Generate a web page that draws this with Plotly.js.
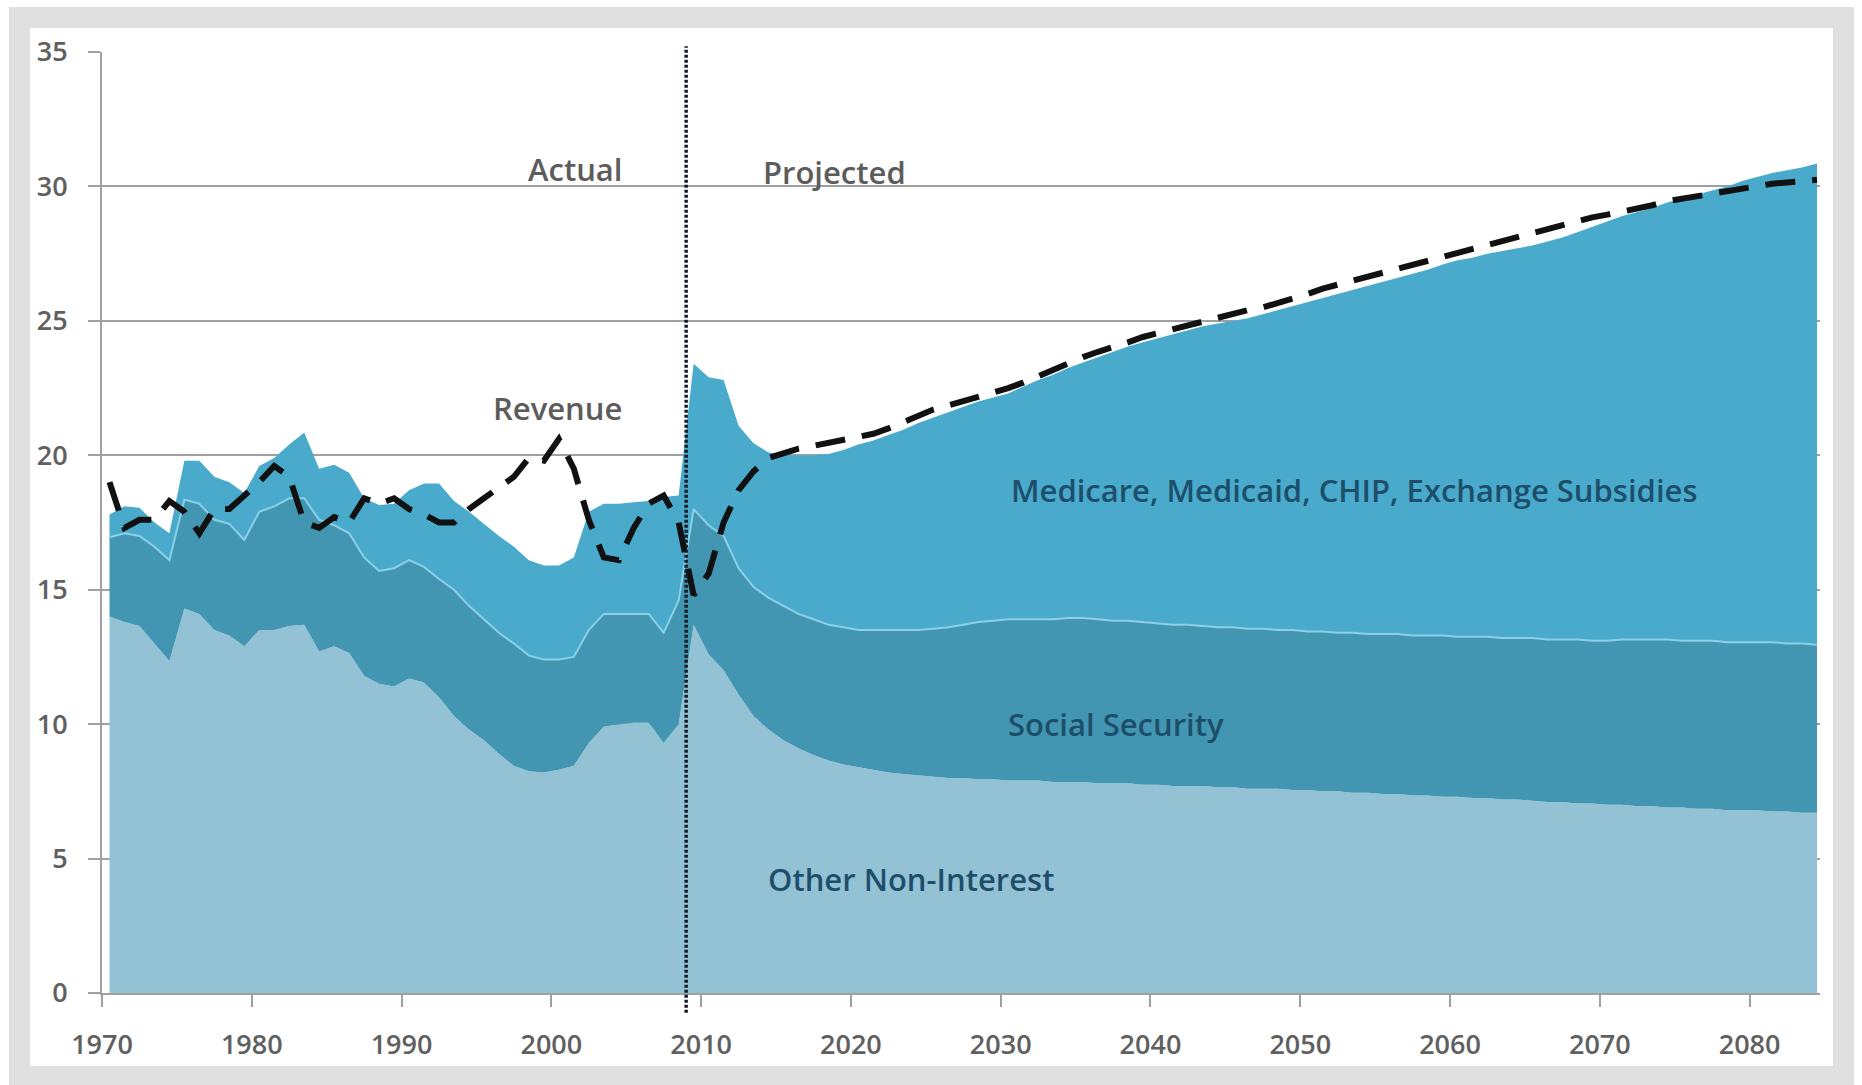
<!DOCTYPE html>
<html>
<head>
<meta charset="utf-8">
<script src="https://cdn.plot.ly/plotly-3.0.1.min.js"></script>
<style>
  html, body { margin: 0; padding: 0; background: #ffffff; width: 1862px; height: 1085px; overflow: hidden; }
  #frame { position: absolute; left: 9px; top: 7px; width: 1845px; height: 1080px; box-sizing: border-box;
           border: 21px solid #e0e0e0; background: #ffffff; }
  #chart { position: absolute; left: 0; top: 0; width: 1862px; height: 1085px; }
</style>
</head>
<body>
<div id="frame"></div>
<div id="chart"></div>
<script>
// Fiscal years shown (actual through 2008, projected from 2009)
const firstYear = 1970, lastYear = 2084;
const years = [];
for (let y = firstYear; y <= lastYear; y++) years.push(y);

// Cumulative (stacked) tops, % of GDP
// Top of "Other Non-Interest"
const otherTop = [
  14.0, 13.8, 13.65, 13.0, 12.35, 14.3, 14.1, 13.5, 13.3, 12.9,      // 1970-79
  13.5, 13.5, 13.65, 13.7, 12.7, 12.9, 12.65, 11.8, 11.5, 11.4,      // 1980-89
  11.7, 11.55, 11.0, 10.3, 9.8, 9.4, 8.9, 8.45, 8.25, 8.2,           // 1990-99
  8.3, 8.45, 9.3, 9.9, 10.0, 10.05, 10.05, 9.3, 10.0, 13.7,          // 2000-09
  12.6, 12.0, 11.1, 10.3, 9.8, 9.4, 9.1, 8.85, 8.65, 8.5,            // 2010-19
  8.4, 8.3, 8.2, 8.15, 8.1, 8.05, 8.0, 8.0, 7.95, 7.95,              // 2020-29
  7.9, 7.9, 7.9, 7.85, 7.85, 7.85, 7.8, 7.8, 7.8, 7.75,              // 2030-39
  7.75, 7.7, 7.7, 7.7, 7.65, 7.65, 7.6, 7.6, 7.6, 7.55,              // 2040-49
  7.55, 7.5, 7.5, 7.45, 7.45, 7.4, 7.4, 7.35, 7.35, 7.3,             // 2050-59
  7.3, 7.25, 7.25, 7.2, 7.2, 7.15, 7.1, 7.1, 7.05, 7.05,             // 2060-69
  7.0, 7.0, 6.95, 6.95, 6.9, 6.9, 6.85, 6.85, 6.8, 6.8,              // 2070-79
  6.8, 6.75, 6.75, 6.7, 6.7                                          // 2080-84
];
// Top of "Social Security" (Other + Social Security)
const socialSecurityTop = [
  16.95, 17.1, 17.0, 16.6, 16.1, 18.35, 18.2, 17.6, 17.45, 16.85,    // 1970-79
  17.9, 18.1, 18.4, 18.4, 17.6, 17.4, 17.1, 16.2, 15.7, 15.8,        // 1980-89
  16.1, 15.85, 15.4, 15.0, 14.4, 13.9, 13.4, 13.0, 12.55, 12.4,      // 1990-99
  12.4, 12.5, 13.5, 14.1, 14.1, 14.1, 14.1, 13.4, 14.6, 18.0,        // 2000-09
  17.4, 17.0, 15.8, 15.1, 14.7, 14.4, 14.1, 13.9, 13.7, 13.6,        // 2010-19
  13.5, 13.5, 13.5, 13.5, 13.5, 13.55, 13.6, 13.7, 13.8, 13.85,      // 2020-29
  13.9, 13.9, 13.9, 13.9, 13.95, 13.95, 13.9, 13.85, 13.85, 13.8,    // 2030-39
  13.75, 13.7, 13.7, 13.65, 13.6, 13.6, 13.55, 13.55, 13.5, 13.5,    // 2040-49
  13.45, 13.45, 13.4, 13.4, 13.35, 13.35, 13.35, 13.3, 13.3, 13.3,   // 2050-59
  13.25, 13.25, 13.25, 13.2, 13.2, 13.2, 13.15, 13.15, 13.15, 13.1,  // 2060-69
  13.1, 13.15, 13.15, 13.15, 13.15, 13.1, 13.1, 13.1, 13.05, 13.05,  // 2070-79
  13.05, 13.05, 13.0, 13.0, 12.95                                    // 2080-84
];
// Top of "Medicare, Medicaid, CHIP, Exchange Subsidies" (total non-interest spending)
const healthTop = [
  17.8, 18.1, 18.05, 17.5, 17.1, 19.8, 19.8, 19.2, 19.0, 18.6,       // 1970-79
  19.6, 19.9, 20.4, 20.85, 19.5, 19.65, 19.35, 18.4, 18.15, 18.2,    // 1980-89
  18.7, 18.95, 18.95, 18.3, 17.9, 17.45, 17.0, 16.6, 16.1, 15.9,     // 1990-99
  15.9, 16.2, 17.9, 18.2, 18.2, 18.25, 18.3, 18.45, 18.5, 23.4,      // 2000-09
  22.9, 22.8, 21.1, 20.45, 20.1, 20.0, 20.0, 20.0, 20.05, 20.2,      // 2010-19
  20.4, 20.55, 20.75, 20.95, 21.2, 21.4, 21.6, 21.8, 22.0, 22.15,    // 2020-29
  22.3, 22.55, 22.8, 23.0, 23.25, 23.45, 23.65, 23.85, 24.05, 24.2,  // 2030-39
  24.35, 24.5, 24.65, 24.8, 24.9, 25.0, 25.1, 25.25, 25.4, 25.55,    // 2040-49
  25.7, 25.85, 26.0, 26.15, 26.3, 26.45, 26.6, 26.75, 26.9, 27.1,    // 2050-59
  27.25, 27.35, 27.5, 27.6, 27.7, 27.8, 27.95, 28.1, 28.3, 28.5,     // 2060-69
  28.7, 28.9, 29.05, 29.2, 29.4, 29.55, 29.7, 29.85, 30.0, 30.2,     // 2070-79
  30.35, 30.5, 30.6, 30.7, 30.85                                     // 2080-84
];
// Revenue, % of GDP
const revenue = [
  19.0, 17.3, 17.6, 17.6, 18.3, 17.9, 17.1, 18.0, 18.0, 18.5,        // 1970-79
  19.0, 19.6, 19.2, 17.5, 17.3, 17.7, 17.5, 18.4, 18.2, 18.4,        // 1980-89
  18.0, 17.8, 17.5, 17.5, 18.0, 18.4, 18.8, 19.2, 19.9, 19.8,        // 1990-99
  20.6, 19.5, 17.6, 16.2, 16.1, 17.3, 18.2, 18.5, 17.5, 14.8,        // 2000-09
  15.6, 17.5, 18.7, 19.4, 19.9, 20.1, 20.25, 20.35, 20.45, 20.55,    // 2010-19
  20.65, 20.8, 21.0, 21.25, 21.5, 21.7, 21.85, 22.0, 22.15, 22.3,    // 2020-29
  22.5, 22.7, 22.95, 23.2, 23.45, 23.65, 23.85, 24.0, 24.2, 24.4,    // 2030-39
  24.55, 24.7, 24.85, 25.0, 25.1, 25.25, 25.4, 25.5, 25.65, 25.85,   // 2040-49
  26.0, 26.2, 26.35, 26.5, 26.65, 26.8, 26.95, 27.1, 27.25, 27.4,    // 2050-59
  27.55, 27.7, 27.85, 28.0, 28.1, 28.25, 28.4, 28.55, 28.7, 28.85,   // 2060-69
  28.95, 29.05, 29.2, 29.3, 29.45, 29.55, 29.65, 29.75, 29.85, 29.95,// 2070-79
  30.05, 30.1, 30.15, 30.2, 30.25                                    // 2080-84
];

const yTicks = [0, 5, 10, 15, 20, 25, 30, 35];
const xTicks = [1970, 1980, 1990, 2000, 2010, 2020, 2030, 2040, 2050, 2060, 2070, 2080];
const splitYear = 2009; // boundary between actual and projected

// each fiscal year is drawn at the middle of its year slot
const xs = years.map(y => y + 0.5);

const labelFont = 'Open Sans, Lato, sans-serif';
const traces = [
  { x: xs, y: otherTop, type: 'scatter', mode: 'lines', fill: 'tozeroy',
    fillcolor: '#93c2d5', line: { width: 0, color: '#93c2d5' }, hoverinfo: 'skip', showlegend: false },
  { x: xs, y: socialSecurityTop, type: 'scatter', mode: 'lines', fill: 'tonexty',
    fillcolor: '#4396b2', line: { width: 2, color: '#8bd0e6' }, hoverinfo: 'skip', showlegend: false },
  { x: xs, y: healthTop, type: 'scatter', mode: 'lines', fill: 'tonexty',
    fillcolor: '#49aacb', line: { width: 0, color: '#49aacb' }, hoverinfo: 'skip', showlegend: false },
  { x: xs, y: revenue, type: 'scatter', mode: 'lines',
    line: { width: 6, color: '#111111', dash: '30px,17px' }, hoverinfo: 'skip', showlegend: false }
];

const gray = '#5c5c5c', dark = '#1d4f6b';
const tickFont = { size: 27, color: '#606060', family: labelFont, weight: 600 };
const grayLabel = { size: 31, color: gray, family: labelFont, weight: 600 };
const darkLabel = { size: 31, color: dark, family: labelFont, weight: 600 };
const layout = {
  width: 1862, height: 1085,
  margin: { l: 102, r: 42, t: 52, b: 92 },
  paper_bgcolor: 'rgba(0,0,0,0)', plot_bgcolor: 'rgba(0,0,0,0)',
  font: { family: labelFont, color: gray },
  xaxis: {
    range: [1970, 2084.7], tickvals: xTicks, ticktext: xTicks.map(String),
    showgrid: false, zeroline: false, showline: true, linecolor: '#a0a0a0', linewidth: 2,
    ticks: 'outside', ticklen: 12, tickwidth: 2, tickcolor: '#a0a0a0',
    tickfont: tickFont, ticklabelstandoff: 15
  },
  yaxis: {
    range: [0, 35], tickvals: yTicks, ticktext: yTicks.map(String),
    showgrid: true, gridcolor: '#a0a0a0', gridwidth: 2, zeroline: false,
    showline: true, linecolor: '#a0a0a0', linewidth: 2,
    ticks: 'outside', ticklen: 12, tickwidth: 2, tickcolor: '#a0a0a0',
    tickfont: tickFont, ticklabelstandoff: 15
  },
  shapes: [
    { type: 'line', xref: 'x', yref: 'paper', x0: splitYear, x1: splitYear, y0: -0.021, y1: 1.006,
      line: { color: '#141c28', width: 3.5, dash: '3px,2px' }, layer: 'above' }
  ],
  annotations: [
    { text: 'Actual', x: 2001.6, y: 30.65, xref: 'x', yref: 'y', showarrow: false, font: grayLabel },
    { text: 'Projected', x: 2018.9, y: 30.55, xref: 'x', yref: 'y', showarrow: false, font: grayLabel },
    { text: 'Revenue', x: 2000.4, y: 21.75, xref: 'x', yref: 'y', showarrow: false, font: grayLabel },
    { text: 'Medicare, Medicaid, CHIP, Exchange Subsidies', x: 2053.6, y: 18.7, xref: 'x', yref: 'y',
      showarrow: false, font: darkLabel },
    { text: 'Social Security', x: 2037.7, y: 10.0, xref: 'x', yref: 'y', showarrow: false, font: darkLabel },
    { text: 'Other Non-Interest', x: 2024.0, y: 4.25, xref: 'x', yref: 'y', showarrow: false, font: darkLabel }
  ]
};

Plotly.newPlot('chart', traces, layout, { displayModeBar: false, staticPlot: true });
</script>
</body>
</html>
